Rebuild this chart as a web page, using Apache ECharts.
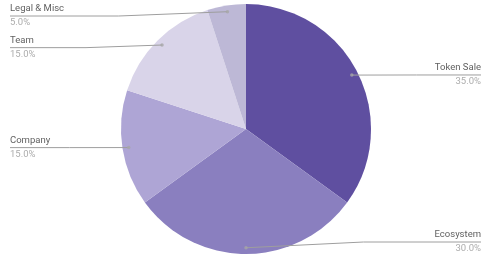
<!DOCTYPE html>
<html><head><meta charset="utf-8">
<script src="https://cdn.jsdelivr.net/npm/echarts@6/dist/echarts.min.js"></script>
<style>html,body{margin:0;padding:0;background:#fff}#c{width:490px;height:265px}</style>
</head><body><div id="c"></div>
<script>
var categories = ['Token Sale', 'Ecosystem', 'Company', 'Team', 'Legal & Misc'];
var values = [35, 30, 15, 15, 5];
var colors = ['#5f4fa0', '#8a7fbf', '#aea5d5', '#d9d4e9', '#bdb8d6'];

var chart = echarts.init(document.getElementById('c'), null, { renderer: 'canvas' });

function lineLayout(p) {
  var pts = p.labelLinePoints;
  if (!pts || !pts.length) return {};
  var lay = chart.getModel().getSeriesByIndex(p.seriesIndex).getData().getItemLayout(p.dataIndex);
  var mid = (lay.startAngle + lay.endAngle) / 2;
  var dx = Math.cos(mid), dy = Math.sin(mid);
  var dot = [lay.cx + dx * lay.r * 0.95, lay.cy + dy * lay.r * 0.95];
  var r = p.labelRect;
  var isLeft = r.x + r.width / 2 < lay.cx;
  var ly = pts[pts.length - 1][1];
  var endX = isLeft ? r.x : r.x + r.width;
  var elbowX = (dot[0] + endX) / 2;
  return { labelLinePoints: [dot, [elbowX, ly], [endX, ly]] };
}

var total = values.reduce(function (a, b) { return a + b; }, 0);
var cum = 0;
var dotData = values.map(function (v) { var m = cum + v / 2; cum += v; return [0.95, m]; });

var pieData = categories.map(function (c, i) { return { name: c, value: values[i] }; });
var common = {
  type: 'pie',
  left: 1, right: 0, top: 3, bottom: 10,
  center: [245, 126],
  radius: [0, 125],
  startAngle: 90,
  clockwise: true,
  silent: true,
  data: pieData
};

chart.setOption({
  animation: false,
  color: colors,
  polar: { center: [246, 129], radius: [0, 125] },
  angleAxis: { type: 'value', min: 0, max: total, startAngle: 90, clockwise: true, show: false },
  radiusAxis: { type: 'value', min: 0, max: 1, show: false },
  series: [
    Object.assign({}, common, {
      z: 2,
      label: { show: false },
      labelLine: { show: false },
      itemStyle: { borderWidth: 0 }
    }),
    Object.assign({}, common, {
      z: 5,
      itemStyle: { color: 'rgba(0,0,0,0)', borderWidth: 0 },
      label: {
        position: 'outside',
        alignTo: 'edge',
        edgeDistance: 9,
        formatter: function (p) { return '{n|' + p.name + '}\n{p|' + p.percent.toFixed(1) + '%}'; },
        rich: {
          n: { fontFamily: 'Roboto', fontSize: 9.5, color: '#616161', lineHeight: 14 },
          p: { fontFamily: 'Roboto', fontSize: 9.5, color: '#acacac', lineHeight: 14 }
        }
      },
      labelLine: {
        show: true,
        length: -6,
        length2: 10,
        lineStyle: { color: '#9e9e9e', width: 1 }
      },
      labelLayout: lineLayout
    }),
    {
      type: 'scatter',
      coordinateSystem: 'polar',
      z: 6,
      silent: true,
      symbol: 'circle',
      symbolSize: 3.5,
      itemStyle: { color: '#a6a6a6' },
      data: dotData
    }
  ]
});
</script>
</body></html>
